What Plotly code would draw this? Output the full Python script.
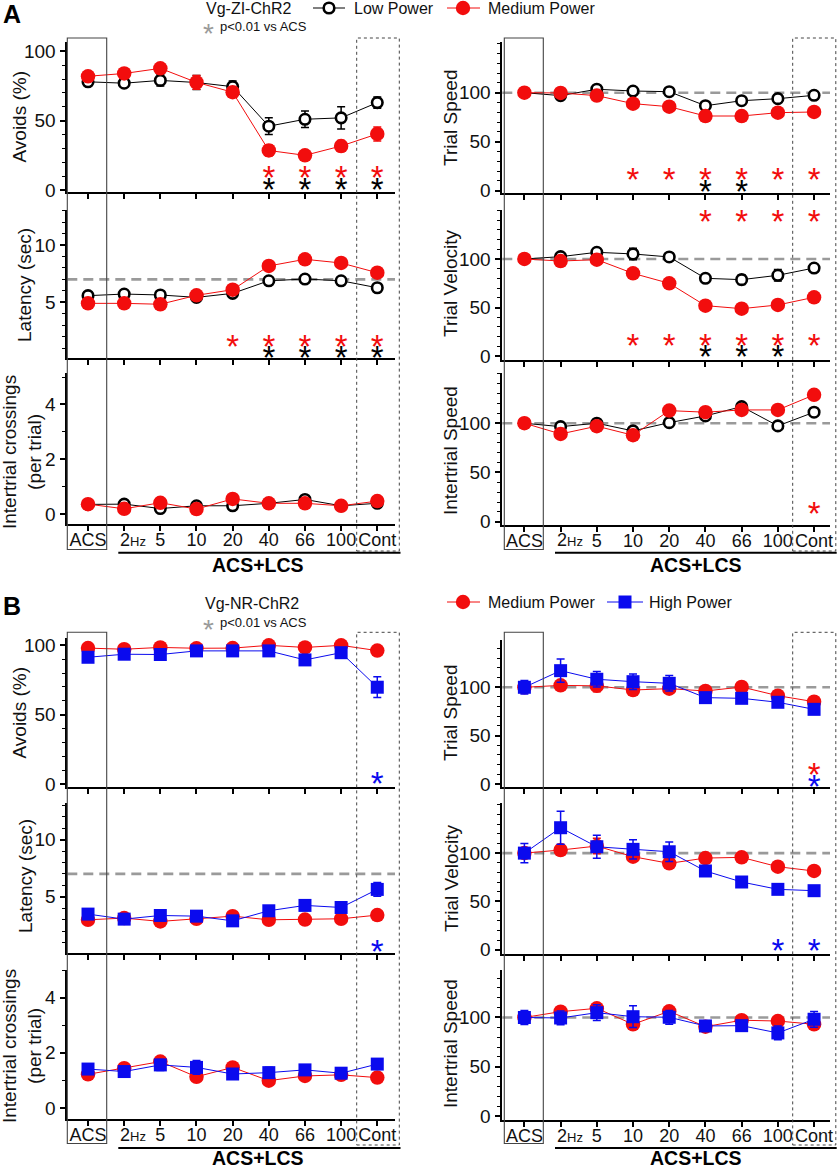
import plotly.graph_objects as go

W, H = 839, 1168
FONT = "Liberation Sans, Arial, sans-serif"

categories = ["ACS", "2Hz", "5", "10", "20", "40", "66", "100", "Cont"]
tick_text = ["ACS", "", "5", "10", "20", "40", "66", "100", "Cont"]

# ---------------- Section A : Vg-ZI-ChR2 (Low vs Medium power) ----------------
a_avoids_low = [78, 77, 79, 77.5, 74.5, 46, 51, 52, 63]
a_avoids_low_err = [2, 3, 4, 5, 4, 6, 6, 8, 4]
a_avoids_med = [82, 84, 87.7, 77.6, 70.5, 28.5, 25, 31.7, 40.4]
a_avoids_med_err = [1.5, 1.5, 2, 5, 2, 4, 2, 4, 5]

a_latency_low = [5.58, 5.72, 5.64, 5.43, 5.78, 6.88, 7.03, 6.88, 6.27]
a_latency_low_err = [0.2, 0.2, 0.2, 0.15, 0.2, 0.2, 0.2, 0.2, 0.2]
a_latency_med = [4.91, 4.91, 4.83, 5.61, 6.1, 8.17, 8.75, 8.43, 7.58]
a_latency_med_err = [0.2, 0.2, 0.2, 0.2, 0.2, 0.25, 0.2, 0.2, 0.2]

a_cross_low = [0.35, 0.36, 0.2, 0.3, 0.3, 0.39, 0.53, 0.3, 0.39]
a_cross_low_err = [0.05, 0.05, 0.05, 0.05, 0.05, 0.05, 0.05, 0.05, 0.05]
a_cross_med = [0.36, 0.19, 0.41, 0.18, 0.55, 0.39, 0.39, 0.3, 0.47]
a_cross_med_err = [0.05, 0.05, 0.05, 0.05, 0.05, 0.05, 0.12, 0.05, 0.05]

a_tspeed_low = [100, 97, 103.5, 101.7, 101, 86.7, 91.8, 93.9, 97.3]
a_tspeed_low_err = [1, 2, 2, 2, 2, 2, 2, 2, 2]
a_tspeed_med = [100, 99.7, 97, 88.8, 85.7, 76.2, 76.2, 79.6, 80.3]
a_tspeed_med_err = [1, 1, 1, 2, 2, 2, 2, 2, 2]

a_tvel_low = [100, 102.4, 106.9, 105.2, 102.1, 80.1, 78.7, 83.2, 90.7]
a_tvel_low_err = [2, 3, 4, 6, 4, 4, 5, 6, 3]
a_tvel_med = [100, 97.9, 99.3, 85.2, 74.9, 51.9, 48.8, 52.6, 60.5]
a_tvel_med_err = [1, 2, 2, 2, 2, 2, 2, 2, 2]

a_ispeed_low = [100, 96.5, 100, 92.2, 100.6, 107.4, 116.9, 97.3, 111.2]
a_ispeed_low_err = [1, 2, 2, 2, 2, 2, 2, 2, 2]
a_ispeed_med = [100, 89.1, 97, 87.8, 112.8, 111.2, 113.5, 113.5, 128.8]
a_ispeed_med_err = [1, 2, 2, 2, 2, 2, 2, 2, 2]

# significance (p<0.01 vs ACS)
a_avoids_sig_low = ["40", "66", "100", "Cont"]
a_avoids_sig_med = ["40", "66", "100", "Cont"]
a_latency_sig_low = ["40", "66", "100", "Cont"]
a_latency_sig_med = ["20", "40", "66", "100", "Cont"]
a_tspeed_sig_low = ["40", "66"]
a_tspeed_sig_med = ["10", "20", "40", "66", "100", "Cont"]
a_tvel_sig_low = ["40", "66", "100"]
a_tvel_sig_med = ["10", "20", "40", "66", "100", "Cont"]
a_tvel_sig_med_top = ["40", "66", "100", "Cont"]
a_ispeed_sig_med = ["Cont"]

# ---------------- Section B : Vg-NR-ChR2 (Medium vs High power) ----------------
b_avoids_med = [98, 97.2, 98.5, 97.9, 98, 100, 98.5, 100, 96.2]
b_avoids_med_err = [2, 2, 2, 2, 2, 1, 2, 1, 2]
b_avoids_high = [91.4, 93.6, 93.4, 96, 96, 96, 89.5, 94.7, 69.8]
b_avoids_high_err = [2, 2, 2, 2, 2, 2, 2, 2, 7.5]

b_latency_med = [2.98, 3.13, 2.84, 3.07, 3.3, 2.98, 3.0, 3.07, 3.39]
b_latency_med_err = [0.15, 0.15, 0.15, 0.15, 0.15, 0.15, 0.15, 0.15, 0.15]
b_latency_high = [3.48, 3.04, 3.36, 3.3, 2.89, 3.77, 4.24, 4.06, 5.64]
b_latency_high_err = [0.2, 0.2, 0.2, 0.2, 0.2, 0.2, 0.2, 0.2, 0.6]

b_cross_med = [1.22, 1.44, 1.68, 1.13, 1.47, 0.99, 1.16, 1.2, 1.1]
b_cross_med_err = [0.08, 0.08, 0.1, 0.08, 0.08, 0.08, 0.08, 0.08, 0.08]
b_cross_high = [1.41, 1.32, 1.56, 1.47, 1.23, 1.28, 1.38, 1.26, 1.59]
b_cross_high_err = [0.1, 0.12, 0.2, 0.25, 0.1, 0.2, 0.12, 0.1, 0.08]

b_tspeed_med = [100, 102, 101.5, 97.2, 98.6, 96.2, 100.3, 91.3, 85.1]
b_tspeed_med_err = [3, 3, 6, 3, 3, 3, 3, 3, 3]
b_tspeed_high = [100, 117.2, 108.3, 105.8, 104.1, 89.3, 88.6, 84.5, 77.2]
b_tspeed_high_err = [7, 12, 8, 8, 8, 3, 3, 4, 5]

b_tvel_med = [100, 103.2, 107.3, 96.3, 89.4, 94.9, 95.6, 85.9, 81.5]
b_tvel_med_err = [3, 5, 8, 4, 5, 3, 3, 3, 3]
b_tvel_high = [100, 126.3, 106.6, 103.9, 101.4, 81.5, 70.1, 62.5, 61.1]
b_tvel_high_err = [10, 17, 12, 10, 10, 3, 3, 4, 3]

b_ispeed_med = [100, 105.9, 109.3, 93.1, 106.3, 90.7, 97.2, 96.4, 93.1]
b_ispeed_med_err = [3, 3, 4, 3, 3, 3, 3, 3, 3]
b_ispeed_high = [100, 99.5, 104.9, 100.8, 100.2, 91.4, 91.7, 84.3, 98.2]
b_ispeed_high_err = [7, 7, 8, 11, 7, 5, 5, 7, 8]

b_avoids_sig_high = ["Cont"]
b_latency_sig_high = ["Cont"]
b_tspeed_sig_med = ["Cont"]
b_tspeed_sig_high = ["Cont"]
b_tvel_sig_high = ["100", "Cont"]

latency_ref = 7
speed_ref = 100

# ---------------- styling ----------------
RED = "#F20D0D"
BLUE = "#0A0AEE"
BLACK = "#000000"
GREY = "#9A9A9A"

styles = {
    "low": dict(name="Low Power", color=BLACK,
                marker=dict(symbol="circle", size=10.5, color="white", line=dict(color=BLACK, width=2.6))),
    "med": dict(name="Medium Power", color=RED,
                marker=dict(symbol="circle", size=14.5, color=RED, line=dict(width=0))),
    "high": dict(name="High Power", color=BLUE,
                 marker=dict(symbol="square", size=13, color=BLUE, line=dict(width=0))),
}

cols = [
    dict(x0=67.3, x1=395.0, rlo=-0.573, rhi=8.49),
    dict(x0=502.3, x1=830.0, rlo=-0.61, rhi=8.44),
]

def yr(py):
    return 1 - py / H

def xr(px):
    return px / W

def ticks_for(kind, lo, hi):
    if kind == "pct":
        major = [0, 50, 100]
        minor = [v for v in range(0, 151, 10) if v not in major]
    elif kind == "lat":
        major = [5, 10]
        minor = [v for v in range(0, 14) if v not in major]
    else:
        major = [0, 2, 4]
        minor = [1, 3, 5]
    major = [v for v in major if lo <= v <= hi]
    minor = [v for v in minor if lo <= v <= hi]
    return major, minor

panels = [
    # section A left
    dict(col=0, b=192.0, t=42, lo=-1.44, hi=106.7, kind="pct", title="Avoids (%)", tx=18.5, ty=117,
         ref=None, bottom=False,
         series=[(a_avoids_low, a_avoids_low_err, "low"), (a_avoids_med, a_avoids_med_err, "med")],
         stars=[(a_avoids_sig_med, 12.3, RED), (a_avoids_sig_low, 3.1, BLACK)]),
    dict(col=0, b=358.3, t=210, lo=0.118, hi=13.05, kind="lat", title="Latency (sec)", tx=25, ty=285,
         ref=latency_ref, bottom=False,
         series=[(a_latency_low, a_latency_low_err, "low"), (a_latency_med, a_latency_med_err, "med")],
         stars=[(a_latency_sig_med, 1.57, RED), (a_latency_sig_low, 0.6, BLACK)]),
    dict(col=0, b=524.3, t=373, lo=-0.376, hi=5.146, kind="cross", title="Intertrial crossings<br>(per trial)",
         tx=22, ty=452, ref=None, bottom=True,
         series=[(a_cross_low, a_cross_low_err, "low"), (a_cross_med, a_cross_med_err, "med")],
         stars=[]),
    # section A right
    dict(col=1, b=193.0, t=42, lo=-2.35, hi=151.7, kind="pct", title="Trial Speed", tx=450, ty=118,
         ref=speed_ref, bottom=False,
         series=[(a_tspeed_low, a_tspeed_low_err, "low"), (a_tspeed_med, a_tspeed_med_err, "med")],
         stars=[(a_tspeed_sig_med, 16.7, RED), (a_tspeed_sig_low, 4.0, BLACK)]),
    dict(col=1, b=360.0, t=210, lo=-4.12, hi=150.5, kind="pct", title="Trial Velocity", tx=451, ty=284,
         ref=speed_ref, bottom=False,
         series=[(a_tvel_low, a_tvel_low_err, "low"), (a_tvel_med, a_tvel_med_err, "med")],
         stars=[(a_tvel_sig_med_top, 143.6, RED), (a_tvel_sig_med, 15.8, RED), (a_tvel_sig_low, 3.4, BLACK)]),
    dict(col=1, b=525.0, t=373, lo=-3.35, hi=151.0, kind="pct", title="Intertrial Speed", tx=450, ty=451,
         ref=speed_ref, bottom=True,
         series=[(a_ispeed_low, a_ispeed_low_err, "low"), (a_ispeed_med, a_ispeed_med_err, "med")],
         stars=[(a_ispeed_sig_med, 13.6, RED)]),
    # section B left
    dict(col=0, b=787.3, t=638, lo=-2.38, hi=105.3, kind="pct", title="Avoids (%)", tx=18.5, ty=713,
         ref=None, bottom=False,
         series=[(b_avoids_med, b_avoids_med_err, "med"), (b_avoids_high, b_avoids_high_err, "high")],
         stars=[(b_avoids_sig_high, 3.5, BLUE)]),
    dict(col=0, b=953.3, t=803, lo=0.05, hi=13.2, kind="lat", title="Latency (sec)", tx=25, ty=876,
         ref=latency_ref, bottom=False,
         series=[(b_latency_med, b_latency_med_err, "med"), (b_latency_high, b_latency_high_err, "high")],
         stars=[(b_latency_sig_high, 0.6, BLUE)]),
    dict(col=0, b=1119.0, t=970, lo=-0.4, hi=5.0, kind="cross", title="Intertrial crossings<br>(per trial)",
         tx=22, ty=1046, ref=None, bottom=True,
         series=[(b_cross_med, b_cross_med_err, "med"), (b_cross_high, b_cross_high_err, "high")],
         stars=[]),
    # section B right
    dict(col=1, b=787.3, t=640, lo=-3.41, hi=148.9, kind="pct", title="Trial Speed", tx=450, ty=713,
         ref=speed_ref, bottom=False,
         series=[(b_tspeed_med, b_tspeed_med_err, "med"), (b_tspeed_high, b_tspeed_high_err, "high")],
         stars=[(b_tspeed_sig_med, 14.5, RED), (b_tspeed_sig_high, 1.8, BLUE)]),
    dict(col=1, b=954.0, t=803, lo=-4.45, hi=151.9, kind="pct", title="Trial Velocity", tx=451, ty=879,
         ref=speed_ref, bottom=False,
         series=[(b_tvel_med, b_tvel_med_err, "med"), (b_tvel_high, b_tvel_high_err, "high")],
         stars=[(b_tvel_sig_high, 3.1, BLUE)]),
    dict(col=1, b=1120.0, t=970, lo=-4.06, hi=148.2, kind="pct", title="Intertrial Speed", tx=450, ty=1044,
         ref=speed_ref, bottom=True,
         series=[(b_ispeed_med, b_ispeed_med_err, "med"), (b_ispeed_high, b_ispeed_high_err, "high")],
         stars=[]),
]

fig = go.Figure()
layout = dict(
    width=W, height=H, autosize=False, template="none",
    margin=dict(l=0, r=0, t=0, b=0),
    paper_bgcolor="white", plot_bgcolor="rgba(0,0,0,0)",
    showlegend=False, font=dict(family=FONT, color="#111"),
)
shapes = []
annotations = []

STAR_SIZE = 33
MID_SHIFT_PX = 8.0     # glyph centre sits this far above the anchor for 'middle center'
BOT_SHIFT_PX = 9.0     # glyph centre sits this far below the anchor for 'bottom center'

for k, p in enumerate(panels, start=1):
    xn = "x" if k == 1 else f"x{k}"
    yn = "y" if k == 1 else f"y{k}"
    xk = "xaxis" if k == 1 else f"xaxis{k}"
    yk = "yaxis" if k == 1 else f"yaxis{k}"
    c = cols[p["col"]]
    major, minor = ticks_for(p["kind"], p["lo"], p["hi"])
    layout[xk] = dict(
        domain=[xr(c["x0"]), xr(c["x1"])], anchor=yn, type="category",
        categoryorder="array", categoryarray=categories,
        range=[c["rlo"], c["rhi"]], showgrid=False, zeroline=False,
        showline=True, linecolor=BLACK, linewidth=1.8,
        ticks="outside", ticklen=5, tickwidth=1.5, tickcolor=BLACK,
        tickmode="array", tickvals=categories, ticktext=tick_text,
        showticklabels=p["bottom"], tickfont=dict(size=18, color="#111"),
        ticklabelstandoff=-7,
        automargin=False, fixedrange=True,
    )
    layout[yk] = dict(
        domain=[yr(p["b"]), yr(p["t"])], anchor=xn, range=[p["lo"], p["hi"]],
        showgrid=False, zeroline=False, showline=True, linecolor=BLACK, linewidth=1.6,
        ticks="outside", ticklen=6, tickwidth=1.5, tickcolor=BLACK,
        tickmode="array", tickvals=major, ticktext=[str(v) for v in major],
        tickfont=dict(size=19, color="#111"),
        minor=dict(tickmode="array", tickvals=minor, ticks="outside", ticklen=3.5,
                   tickwidth=1.2, tickcolor=BLACK, showgrid=False),
        automargin=False, fixedrange=True,
    )
    if p["ref"] is not None:
        shapes.append(dict(type="line", xref=f"{xn} domain", x0=0, x1=1, yref=yn,
                           y0=p["ref"], y1=p["ref"], layer="below",
                           line=dict(color=GREY, width=2.6, dash="10px,6px")))
    for vals, err, key in p["series"]:
        st = styles[key]
        fig.add_trace(go.Scatter(
            x=categories, y=vals, xaxis=xn, yaxis=yn, mode="lines+markers",
            name=st["name"], line=dict(color=st["color"], width=1),
            marker=st["marker"],
            error_y=dict(type="data", array=err, color=st["color"], thickness=1.5, width=4),
            showlegend=False, cliponaxis=False,
        ))
    spx = (p["b"] - p["t"]) / (p["hi"] - p["lo"])
    for sig, yv, colr in p["stars"]:
        ypos = yv - MID_SHIFT_PX / spx
        tpos = "middle center"
        if ypos < p["lo"]:
            ypos = yv + BOT_SHIFT_PX / spx
            tpos = "bottom center"
        fig.add_trace(go.Scatter(
            x=sig, y=[ypos] * len(sig), xaxis=xn, yaxis=yn,
            mode="text", text=["*"] * len(sig), textposition=tpos,
            textfont=dict(size=STAR_SIZE, color=colr, family=FONT),
            showlegend=False, cliponaxis=False, hoverinfo="skip",
        ))
    annotations.append(dict(
        text=p["title"], xref="paper", yref="paper", x=xr(p["tx"]), y=yr(p["ty"]),
        xanchor="center", yanchor="middle", textangle=-90, showarrow=False,
        font=dict(size=19, color="#111", family=FONT)))
    if p["bottom"]:
        annotations.append(dict(
            text="<span style='font-size:18px'>2</span><span style='font-size:13px'>Hz</span>",
            xref=xn, yref="paper",
            x="2Hz", y=yr(p["b"] + 15.5), xanchor="left", yanchor="middle", xshift=-6,
            showarrow=False, font=dict(size=18, color="#111", family=FONT)))

# frames around ACS and Cont columns, ACS+LCS bracket
for (top, bot, line_y, lab_y) in [(38, 549.5, 552.7, 565), (632.3, 1143.5, 1148, 1158.3)]:
    for (ax0, ax1, cx0, cx1, lx0, lx1, labx) in [
        (67.3, 106.7, 356.7, 399.3, 118.3, 400.5, 258.3),
        (504.3, 543.3, 792.7, 835.8, 555.0, 836.7, 695.5),
    ]:
        shapes.append(dict(type="rect", xref="paper", yref="paper",
                           x0=xr(ax0), x1=xr(ax1), y0=yr(bot), y1=yr(top),
                           line=dict(color="#444", width=1.1), layer="above"))
        shapes.append(dict(type="rect", xref="paper", yref="paper",
                           x0=xr(cx0), x1=xr(cx1), y0=yr(bot + 1.5), y1=yr(top),
                           line=dict(color="#444", width=1.0, dash="dot"), layer="above"))
        shapes.append(dict(type="line", xref="paper", yref="paper",
                           x0=xr(lx0), x1=xr(lx1), y0=yr(line_y), y1=yr(line_y),
                           line=dict(color=BLACK, width=2)))
        annotations.append(dict(text="<b>ACS+LCS</b>", xref="paper", yref="paper",
                                x=xr(labx), y=yr(lab_y), xanchor="center", yanchor="middle",
                                showarrow=False, font=dict(size=19.5, color=BLACK, family=FONT)))

# headers / legends
def legend_item(x_line0, x_line1, xm, ym, key, text_x, label):
    st = styles[key]
    shapes.append(dict(type="line", xref="paper", yref="paper", x0=xr(x_line0), x1=xr(x_line1),
                       y0=yr(ym), y1=yr(ym), line=dict(color=st["color"], width=1)))
    if key == "low":
        r = 5.3
        shapes.append(dict(type="circle", xref="paper", yref="paper", xsizemode="pixel",
                           ysizemode="pixel", xanchor=xr(xm), yanchor=yr(ym),
                           x0=-r, x1=r, y0=-r, y1=r, fillcolor="white",
                           line=dict(color=BLACK, width=2.6)))
    elif key == "med":
        r = 7.2
        shapes.append(dict(type="circle", xref="paper", yref="paper", xsizemode="pixel",
                           ysizemode="pixel", xanchor=xr(xm), yanchor=yr(ym),
                           x0=-r, x1=r, y0=-r, y1=r, fillcolor=RED, line=dict(width=0)))
    else:
        r = 6.5
        shapes.append(dict(type="rect", xref="paper", yref="paper", xsizemode="pixel",
                           ysizemode="pixel", xanchor=xr(xm), yanchor=yr(ym),
                           x0=-r, x1=r, y0=-r, y1=r, fillcolor=BLUE, line=dict(width=0)))
    annotations.append(dict(text=label, xref="paper", yref="paper", x=xr(text_x), y=yr(ym),
                            xanchor="left", yanchor="middle", showarrow=False,
                            font=dict(size=16, color="#111", family=FONT)))

legend_item(313, 345, 329, 8, "low", 352, "Low Power")
legend_item(447, 480, 463, 8, "med", 486, "Medium Power")
legend_item(447, 480, 463, 602, "med", 486, "Medium Power")
legend_item(607, 643, 625, 602, "high", 647, "High Power")

for (label, gx, ty, cy) in [("Vg-ZI-ChR2", 248, 8, 26.5), ("Vg-NR-ChR2", 252, 603, 622.5)]:
    annotations.append(dict(text=label, xref="paper", yref="paper", x=xr(gx), y=yr(ty),
                            xanchor="center", yanchor="middle", showarrow=False,
                            font=dict(size=16, color="#111", family=FONT)))
    annotations.append(dict(text="*", xref="paper", yref="paper", x=xr(208.5), y=yr(cy + 7),
                            xanchor="center", yanchor="middle", showarrow=False,
                            font=dict(size=28, color=GREY, family=FONT)))
    annotations.append(dict(text="p&lt;0.01 vs ACS", xref="paper", yref="paper", x=xr(217.5),
                            y=yr(cy), xanchor="left", yanchor="middle", showarrow=False,
                            font=dict(size=13, color="#111", family=FONT)))

annotations.append(dict(text="<b>A</b>", xref="paper", yref="paper", x=xr(11.5), y=yr(14),
                        xanchor="center", yanchor="middle", showarrow=False,
                        font=dict(size=25, color=BLACK, family=FONT)))
annotations.append(dict(text="<b>B</b>", xref="paper", yref="paper", x=xr(11.5), y=yr(606),
                        xanchor="center", yanchor="middle", showarrow=False,
                        font=dict(size=25, color=BLACK, family=FONT)))

layout["shapes"] = shapes
layout["annotations"] = annotations
fig.update_layout(**layout)
fig.write_html(
    "out.html",
    config={"displayModeBar": False},
    post_script="document.body.style.margin='0px';document.body.style.padding='0px';"
                "document.body.style.overflow='hidden';",
)
